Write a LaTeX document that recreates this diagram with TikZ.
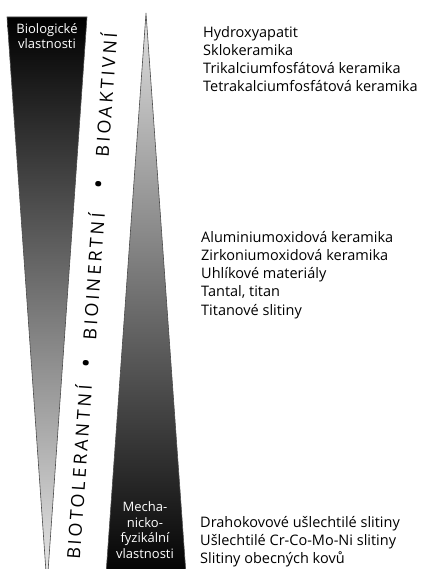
\documentclass[tikz,border=0pt]{standalone}
\usepackage{fontspec}
\setmainfont{Open Sans}
\newfontfamily\vfont[LetterSpace=17]{Open Sans}
\begin{document}
\begin{tikzpicture}[x=1pt,y=-1pt,
  shapeline/.style={draw=black!70, line width=0.6pt},
  item/.style={font=\fontsize{14.5}{18}\selectfont, anchor=base west, inner sep=0pt},
  inlabel/.style={text=white, font=\fontsize{13}{15.5}\selectfont, align=center, inner sep=0pt},
  vword/.style={rotate=86, inner sep=0pt, text height=13pt, text depth=0pt,
    font=\vfont\fontsize{18}{18}\selectfont},
  vdot/.style={rotate=86, inner sep=0pt, font=\fontsize{25}{25}\selectfont}]
\useasboundingbox (0,0) rectangle (421,569);
\begin{scope}
  \clip (0,0) rectangle (421,569);
  \shadedraw[top color=black, bottom color=black!8, shapeline] (7,17) -- (87,17) -- (47,586) -- cycle;
  \shadedraw[top color=black!12, bottom color=black, shapeline] (146,13) -- (186.4,580) -- (105.6,580) -- cycle;
\end{scope}
% labels inside the wedges
\node[inlabel] (bio) at (47,36) {Biologické\\vlastnosti};
\node[inlabel] (mech) at (145,530) {Mecha-\\nicko-\\fyzikální\\vlastnosti};
% vertical words
\node[vword] (w1) at (106.5,95) {BIOAKTIVNÍ};
\node[vdot] (d1) at (101.5,184) {•};
\node[vword] (w2) at (94,276.5) {BIOINERTNÍ};
\node[vdot] (d2) at (89,363) {•};
\node[vword] (w3) at (79.5,472.5) {BIOTOLERANTNÍ};
% material lists
\node[item] (a1) at (203,38) {Hydroxyapatit};
\node[item] (a2) at (203,56) {Sklokeramika};
\node[item] (a3) at (203,74) {Trikalciumfosfátová keramika};
\node[item] (a4) at (203,92) {Tetrakalciumfosfátová keramika};
\node[item] (b1) at (201,242) {Aluminiumoxidová keramika};
\node[item] (b2) at (201,260.25) {Zirkoniumoxidová keramika};
\node[item] (b3) at (201,278.5) {Uhlíkové materiály};
\node[item] (b4) at (201,296.75) {Tantal, titan};
\node[item] (b5) at (201,315) {Titanové slitiny};
\node[item] (c1) at (200,527) {Drahokovové ušlechtilé slitiny};
\node[item] (c2) at (200,545) {Ušlechtilé Cr-Co-Mo-Ni slitiny};
\node[item] (c3) at (200,563) {Slitiny obecných kovů};
\end{tikzpicture}
\end{document}
